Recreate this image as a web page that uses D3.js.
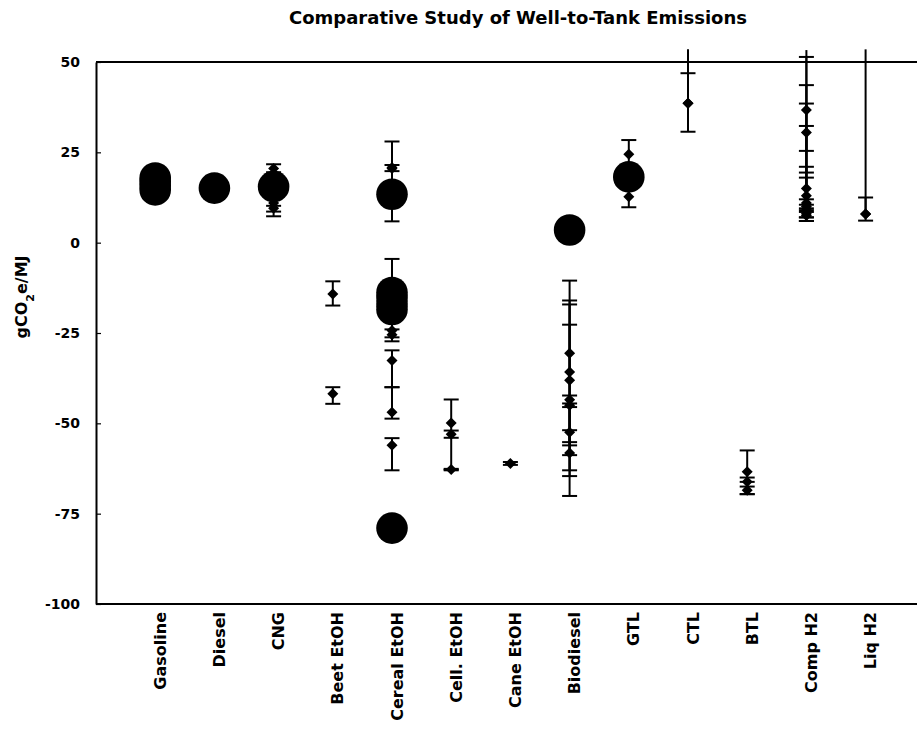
<!DOCTYPE html>
<html>
<meta charset="utf-8">
<title>Comparative Study of Well-to-Tank Emissions</title>
<style>
body {
  margin: 0;
  background: #fff;
}

text {
  font-family: "DejaVu Sans", sans-serif;
  font-weight: bold;
  fill: #000;
}

.frame {
  stroke: #000;
  stroke-width: 2;
}

.bar {
  stroke: #000;
  stroke-width: 2;
}
</style>
<body>
<div id="chart"></div>
<script src="https://cdn.jsdelivr.net/npm/d3@7"></script>
<script>

var categories = ["Gasoline", "Diesel", "CNG", "Beet EtOH", "Cereal EtOH", "Cell. EtOH",
  "Cane EtOH", "Biodiesel", "GTL", "CTL", "BTL", "Comp H2", "Liq H2"];

var yTicks = [-100, -75, -50, -25, 0, 25, 50];

// big round markers: [category, value]
var circles = [
  ["Gasoline", 14.6], ["Gasoline", 15.8], ["Gasoline", 16.9], ["Gasoline", 17.9],
  ["Diesel", 15.1],
  ["CNG", 15.5],
  ["Cereal EtOH", 13.4], ["Cereal EtOH", -13.8], ["Cereal EtOH", -15.3],
  ["Cereal EtOH", -17], ["Cereal EtOH", -18.5], ["Cereal EtOH", -79],
  ["Biodiesel", 3.5],
  ["GTL", 18.2]
];

// diamond markers with error bars: [category, value, low, high]
var points = [
  ["CNG", 20.5, 19.5, 21.7], ["CNG", 11, 8.6, 13], ["CNG", 9.5, 7.3, 10.2],
  ["Beet EtOH", -14.2, -17.4, -10.7], ["Beet EtOH", -41.8, -44.6, -40],
  ["Cereal EtOH", 20.8, 5.9, 28], ["Cereal EtOH", 20.5, 19.8, 21.5],
  ["Cereal EtOH", -24.3, -27.3, -4.5], ["Cereal EtOH", -25.5, -26.2, -24],
  ["Cereal EtOH", -32.6, -40, -29.8], ["Cereal EtOH", -46.9, -48.7, -40],
  ["Cereal EtOH", -56.1, -63, -54.1],
  ["Cell. EtOH", -49.9, -62.8, -43.4], ["Cell. EtOH", -53, -54, -52],
  ["Cell. EtOH", -62.8, -63, -62.6],
  ["Cane EtOH", -61.1, -61.5, -60.7],
  ["Biodiesel", -30.6, -70.1, -10.5], ["Biodiesel", -35.8, -64.6, -22.7],
  ["Biodiesel", -38.1, -63, -16], ["Biodiesel", -43.5, -56.1, -42.3],
  ["Biodiesel", -52.5, -55.2, -51.9], ["Biodiesel", -58.2, -58.8, -17.1],
  ["Biodiesel", -45, -45.5, -44.5],
  ["GTL", 24.5, 18, 28.4], ["GTL", 12.7, 9.8, 18],
  ["CTL", 38.6, 30.7, 46.9], ["CTL", 38.6, 38.6, 53.5],
  ["BTL", -63.4, -66.2, -57.5], ["BTL", -66.2, -69.6, -65], ["BTL", -68.5, -69.6, -67.5],
  ["Comp H2", 36.7, 25.4, 51.4], ["Comp H2", 30.5, 19.4, 43.6],
  ["Comp H2", 15, 12, 38.5], ["Comp H2", 13, 10.5, 32.3],
  ["Comp H2", 11, 8.5, 21], ["Comp H2", 10, 7, 18],
  ["Comp H2", 9, 6, 53.3], ["Comp H2", 8, 7, 9.5], ["Comp H2", 7.5, 6, 9],
  ["Liq H2", 7.9, 6.1, 12.5], ["Liq H2", 7.9, 7.9, 53.5]
];

var width = 917,
  height = 732,
  plotLeft = 96,
  plotTop = 62,
  plotBottom = 604;

var svg = d3.select("#chart").append("svg")
  .attr("width", width)
  .attr("height", height);

var x = d3.scalePoint()
  .domain(categories)
  .range([plotLeft, plotLeft + 59.2 * 14])
  .padding(1);

var y = d3.scaleLinear()
  .domain([-100, 50])
  .range([plotBottom, plotTop]);

// title
svg.append("text")
  .attr("x", 518)
  .attr("y", 24)
  .attr("text-anchor", "middle")
  .style("font-size", "18px")
  .text("Comparative Study of Well-to-Tank Emissions");

// y axis
var yAxis = svg.append("g")
  .attr("transform", "translate(" + plotLeft + ",0)")
  .call(d3.axisLeft(y)
    .tickValues(yTicks)
    .tickFormat(function(d) { return String(d); })
    .tickSizeInner(-5)
    .tickSizeOuter(0)
    .tickPadding(16));

yAxis.select(".domain").attr("stroke-width", 2);
yAxis.selectAll(".tick line").attr("stroke-width", 1.2);
yAxis.selectAll(".tick text")
  .style("font-size", "14px")
  .style("font-family", "DejaVu Sans, sans-serif")
  .style("font-weight", "bold");

var ylab = svg.append("text")
  .attr("transform", "translate(27,297) rotate(-90)")
  .attr("text-anchor", "middle")
  .style("font-size", "16px");
ylab.append("tspan").text("gCO");
ylab.append("tspan").attr("baseline-shift", "sub").style("font-size", "11px").text("2");
ylab.append("tspan").text("e/MJ");

// frame lines top and bottom
svg.append("line").attr("class", "frame")
  .attr("x1", plotLeft).attr("x2", width)
  .attr("y1", y(50)).attr("y2", y(50))
  .attr("stroke-width", 2.5);
svg.append("line").attr("class", "frame")
  .attr("x1", plotLeft).attr("x2", width)
  .attr("y1", y(-100)).attr("y2", y(-100));

// category labels
svg.append("g").selectAll("text")
  .data(categories)
  .enter().append("text")
  .attr("transform", function(d) {
    return "translate(" + (x(d) + 5) + ",612) rotate(-90)";
  })
  .attr("text-anchor", "end")
  .attr("dy", ".35em")
  .style("font-size", "16px")
  .text(function(d) { return d; });

// error bars
var bars = svg.append("g");
bars.selectAll("line.bar")
  .data(points)
  .enter().append("line")
  .attr("class", "bar")
  .attr("x1", function(d) { return x(d[0]); })
  .attr("x2", function(d) { return x(d[0]); })
  .attr("y1", function(d) { return y(d[2]); })
  .attr("y2", function(d) { return y(d[3]); });

var caps = [];
points.forEach(function(d) {
  [d[2], d[3]].forEach(function(v) {
    if (v !== d[1] && v < 53) caps.push([d[0], v]);
  });
});

bars.selectAll("line.cap")
  .data(caps)
  .enter().append("line")
  .attr("class", "bar cap")
  .attr("stroke-width", 2.5)
  .attr("x1", function(d) { return x(d[0]) - 7.5; })
  .attr("x2", function(d) { return x(d[0]) + 7.5; })
  .attr("y1", function(d) { return y(d[1]); })
  .attr("y2", function(d) { return y(d[1]); });

// diamonds
svg.append("g").selectAll("path")
  .data(points)
  .enter().append("path")
  .attr("d", function(d) {
    var cx = x(d[0]), cy = y(d[1]);
    return "M" + (cx - 5.5) + "," + cy + "L" + cx + "," + (cy - 5.5) +
      "L" + (cx + 5.5) + "," + cy + "L" + cx + "," + (cy + 5.5) + "Z";
  })
  .attr("fill", "#000");

// big circles
svg.append("g").selectAll("circle")
  .data(circles)
  .enter().append("circle")
  .attr("cx", function(d) { return x(d[0]); })
  .attr("cy", function(d) { return y(d[1]); })
  .attr("r", 15.8)
  .attr("fill", "#000");

</script>
</body>
</html>
